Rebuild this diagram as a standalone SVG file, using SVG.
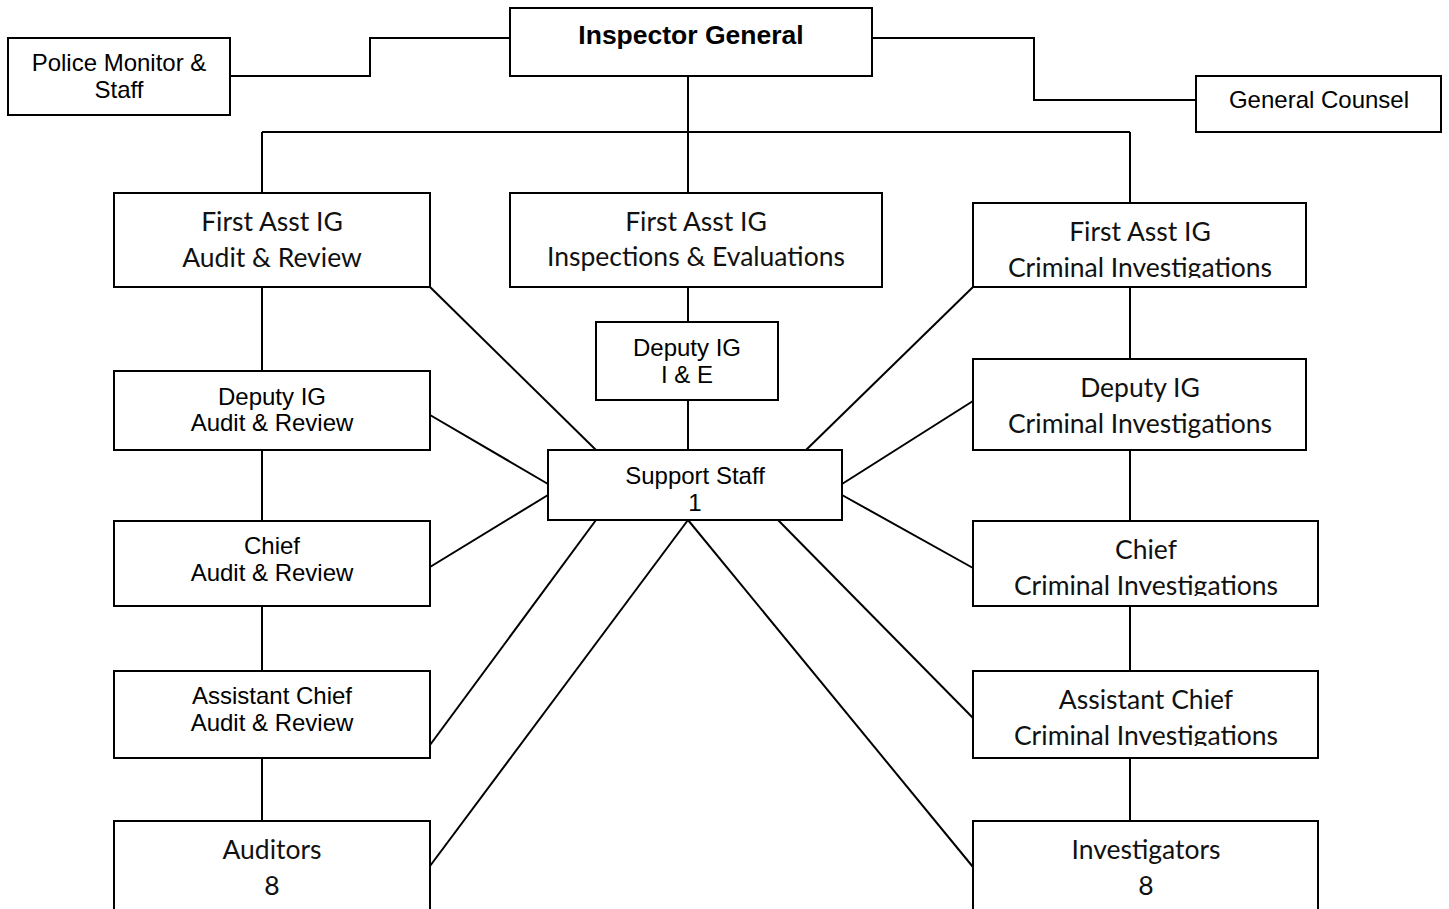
<svg xmlns="http://www.w3.org/2000/svg" width="1449" height="909" viewBox="0 0 1449 909">
<style>
rect{fill:#fff;stroke:#000;stroke-width:2}
.c line,.c polyline{stroke:#000;stroke-width:2;fill:none}
.a{font-family:"Liberation Sans",Arial,sans-serif;font-size:24px;fill:#000;text-anchor:middle}
.k{font-family:Lato,"Open Sans",sans-serif;font-size:26.5px;fill:#111;text-anchor:middle}
.b{font-family:"Liberation Sans",Arial,sans-serif;font-size:26.5px;font-weight:bold;fill:#000;text-anchor:middle}
</style>
<defs>
<clipPath id="cp1"><rect x="973" y="203" width="333" height="75"/></clipPath>
<clipPath id="cp2"><rect x="973" y="521" width="345" height="75"/></clipPath>
<clipPath id="cp3"><rect x="973" y="671" width="345" height="75"/></clipPath>
</defs>
<g class="c" id="connectors">
<polyline points="230,76 370,76 370,38 510,38"/>
<polyline points="872,38 1034,38 1034,100 1196,100"/>
<line x1="688" y1="76" x2="688" y2="193"/>
<line x1="262" y1="132" x2="1130" y2="132"/>
<line x1="262" y1="132" x2="262" y2="193"/>
<line x1="1130" y1="132" x2="1130" y2="203"/>
<line x1="688" y1="287" x2="688" y2="322"/>
<line x1="688" y1="400" x2="688" y2="450"/>
<line x1="262" y1="287" x2="262" y2="371"/>
<line x1="262" y1="450" x2="262" y2="521"/>
<line x1="262" y1="606" x2="262" y2="671"/>
<line x1="262" y1="758" x2="262" y2="821"/>
<line x1="1130" y1="287" x2="1130" y2="359"/>
<line x1="1130" y1="450" x2="1130" y2="521"/>
<line x1="1130" y1="606" x2="1130" y2="671"/>
<line x1="1130" y1="758" x2="1130" y2="821"/>
<line x1="430" y1="287" x2="596" y2="450"/>
<line x1="430" y1="415" x2="548" y2="484"/>
<line x1="430" y1="567" x2="548" y2="495"/>
<line x1="430" y1="745" x2="596" y2="520"/>
<line x1="430" y1="866" x2="688" y2="520"/>
<line x1="688" y1="520" x2="973" y2="867"/>
<line x1="778" y1="520" x2="973" y2="718"/>
<line x1="806" y1="450" x2="973" y2="287"/>
<line x1="842" y1="484" x2="973" y2="401"/>
<line x1="842" y1="495" x2="973" y2="568"/>
</g>
<g id="police-monitor"><rect x="8" y="38" width="222" height="77"/><text class="a" x="119" y="71">Police Monitor &amp;</text><text class="a" x="119" y="98">Staff</text></g>
<g id="inspector-general"><rect x="510" y="8" width="362" height="68"/><text class="b" x="691" y="44">Inspector General</text></g>
<g id="general-counsel"><rect x="1196" y="76" width="245" height="56"/><text class="a" x="1319" y="108">General Counsel</text></g>
<g id="first-asst-ar"><rect x="114" y="193" width="316" height="94"/><text class="k" x="272" y="231">First Asst IG</text><text class="k" x="272" y="267">Audit &amp; Review</text></g>
<g id="first-asst-ie"><rect x="510" y="193" width="372" height="94"/><text class="k" x="696" y="231">First Asst IG</text><text class="k" x="696" y="266">Inspections &amp; Evaluations</text></g>
<g id="first-asst-ci"><rect x="973" y="203" width="333" height="84"/><g clip-path="url(#cp1)"><text class="k" x="1140" y="241">First Asst IG</text><text class="k" x="1140" y="277">Criminal Investigations</text></g></g>
<g id="deputy-ie"><rect x="596" y="322" width="182" height="78"/><text class="a" x="687" y="356">Deputy IG</text><text class="a" x="687" y="383">I &amp; E</text></g>
<g id="support-staff"><rect x="548" y="450" width="294" height="70"/><text class="a" x="695" y="484">Support Staff</text><text class="a" x="695" y="511">1</text></g>
<g id="deputy-ar"><rect x="114" y="371" width="316" height="79"/><text class="a" x="272" y="405">Deputy IG</text><text class="a" x="272" y="431">Audit &amp; Review</text></g>
<g id="chief-ar"><rect x="114" y="521" width="316" height="85"/><text class="a" x="272" y="554">Chief</text><text class="a" x="272" y="581">Audit &amp; Review</text></g>
<g id="asst-chief-ar"><rect x="114" y="671" width="316" height="87"/><text class="a" x="272" y="704">Assistant Chief</text><text class="a" x="272" y="731">Audit &amp; Review</text></g>
<g id="auditors"><rect x="114" y="821" width="316" height="100"/><text class="k" x="272" y="859">Auditors</text><text class="k" x="272" y="895">8</text></g>
<g id="deputy-ci"><rect x="973" y="359" width="333" height="91"/><text class="k" x="1140" y="397">Deputy IG</text><text class="k" x="1140" y="433">Criminal Investigations</text></g>
<g id="chief-ci"><rect x="973" y="521" width="345" height="85"/><g clip-path="url(#cp2)"><text class="k" x="1146" y="559">Chief</text><text class="k" x="1146" y="595">Criminal Investigations</text></g></g>
<g id="asst-chief-ci"><rect x="973" y="671" width="345" height="87"/><g clip-path="url(#cp3)"><text class="k" x="1146" y="709">Assistant Chief</text><text class="k" x="1146" y="745">Criminal Investigations</text></g></g>
<g id="investigators"><rect x="973" y="821" width="345" height="100"/><text class="k" x="1146" y="859">Investigators</text><text class="k" x="1146" y="895">8</text></g>
</svg>
